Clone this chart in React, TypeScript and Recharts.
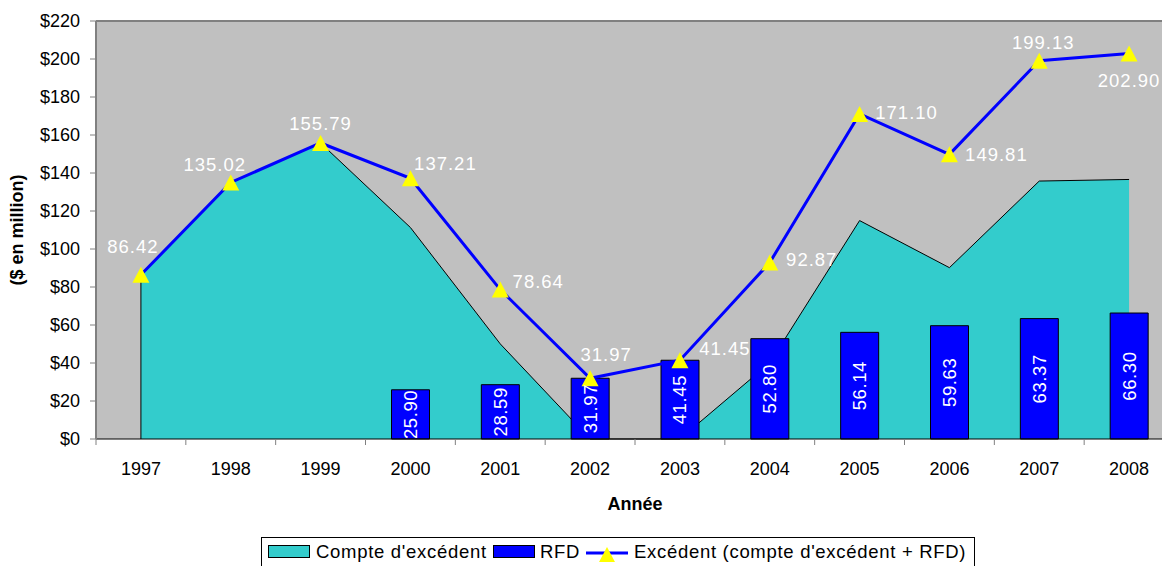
import React from 'react';
import {
  ComposedChart,
  Area,
  Bar,
  Line,
  XAxis,
  YAxis,
  CartesianGrid,
  ReferenceLine,
  LabelList,
} from 'recharts';

const years = ['1997', '1998', '1999', '2000', '2001', '2002', '2003', '2004', '2005', '2006', '2007', '2008'];
const compteExcedent = [86.42, 135.02, 155.79, 111.31, 50.05, 0, 0, 40.07, 114.96, 90.18, 135.76, 136.6];
const rfd: (number | null)[] = [null, null, null, 25.9, 28.59, 31.97, 41.45, 52.8, 56.14, 59.63, 63.37, 66.3];
const excedent = [86.42, 135.02, 155.79, 137.21, 78.64, 31.97, 41.45, 92.87, 171.1, 149.81, 199.13, 202.9];
const yTicks = [0, 20, 40, 60, 80, 100, 120, 140, 160, 180, 200, 220];

// label offsets (dx, dy) for the line's value labels
const lineLabelOffsets: [number, number][] = [
  [-8, -28], [-16, -18], [0, -19], [35, -15], [38, -8], [16, -24],
  [45, -12], [42, -3], [47, -1], [47, 0], [4, -18], [0, 27],
];

const data = years.map((y, i) => ({
  year: y,
  compte: compteExcedent[i],
  rfd: rfd[i],
  excedent: excedent[i],
}));

const FONT = '"Liberation Sans", Arial, sans-serif';
const CHART_W = 1174;
const CHART_H = 566;
const PLOT_LEFT = 96;
const STEP = (CHART_W - PLOT_LEFT) / years.length;

const XTick = (props: any) => {
  const { x, y, payload, index } = props;
  return (
    <g>
      <line x1={x - STEP / 2} y1={y} x2={x - STEP / 2} y2={y + 6} stroke="#808080" />
      {index === years.length - 1 && (
        <line x1={x + STEP / 2} y1={y} x2={x + STEP / 2} y2={y + 6} stroke="#808080" />
      )}
      <text x={x} y={y + 36} textAnchor="middle" fontSize={18} fill="#000" fontFamily={FONT}>
        {payload.value}
      </text>
    </g>
  );
};

const Triangle = (props: any) => {
  const { cx, cy } = props;
  if (cx == null || cy == null) return null;
  return (
    <polygon
      points={`${cx},${cy - 8} ${cx + 8.5},${cy + 8} ${cx - 8.5},${cy + 8}`}
      fill="#FFFF00"
      stroke="none"
    />
  );
};

const LineLabel = (props: any) => {
  const { x, y, value, index } = props;
  if (value == null) return null;
  const [dx, dy] = lineLabelOffsets[index] || [0, -20];
  return (
    <text
      x={x + dx}
      y={y + dy}
      textAnchor="middle"
      dominantBaseline="central"
      fill="#FFFFFF"
      fontSize={18.5}
      letterSpacing={1}
      fontFamily={FONT}
    >
      {Number(value).toFixed(2)}
    </text>
  );
};

const BarLabel = (props: any) => {
  const { x, y, width, height, value } = props;
  if (value == null) return null;
  const cx = x + width / 2;
  const cy = y + height / 2;
  return (
    <text
      x={cx}
      y={cy}
      transform={`rotate(-90, ${cx}, ${cy})`}
      textAnchor="middle"
      dominantBaseline="central"
      fill="#FFFFFF"
      fontSize={18.5}
      letterSpacing={0.6}
      fontFamily={FONT}
    >
      {Number(value).toFixed(2)}
    </text>
  );
};

const LegendBox = () => (
  <div
    style={{
      position: 'absolute',
      left: 261,
      top: 537,
      width: 714,
      height: 30,
      border: '1px solid #000',
      boxSizing: 'border-box',
      background: '#fff',
      fontFamily: FONT,
      fontSize: 18.5,
      letterSpacing: 0.7,
      color: '#000',
    }}
  >
    <div style={{ position: 'absolute', left: 6, top: 7, width: 42, height: 13, background: '#33CCCC', border: '1px solid #000', boxSizing: 'border-box' }} />
    <div style={{ position: 'absolute', left: 54, top: 3, lineHeight: '22px', whiteSpace: 'nowrap' }}>Compte d'excédent</div>
    <div style={{ position: 'absolute', left: 231, top: 7, width: 42, height: 13, background: '#0000FF', border: '1px solid #000', boxSizing: 'border-box' }} />
    <div style={{ position: 'absolute', left: 278, top: 3, lineHeight: '22px', whiteSpace: 'nowrap' }}>RFD</div>
    <svg style={{ position: 'absolute', left: 324, top: 4 }} width={42} height={22}>
      <line x1={0} y1={11} x2={42} y2={11} stroke="#0000FF" strokeWidth={3} />
      <polygon points="21,5 29,20 13,20" fill="#FFFF00" />
    </svg>
    <div style={{ position: 'absolute', left: 372, top: 3, lineHeight: '22px', whiteSpace: 'nowrap' }}>Excédent (compte d'excédent + RFD)</div>
  </div>
);

export default function App() {
  return (
    <div
      style={{
        position: 'fixed',
        left: 0,
        top: 0,
        width: 1162,
        height: 566,
        overflow: 'hidden',
        background: '#fff',
        fontFamily: FONT,
      }}
    >
      <ComposedChart
        width={CHART_W}
        height={CHART_H}
        data={data}
        margin={{ top: 21, right: 0, left: 0, bottom: 47 }}
        style={{ fontFamily: FONT }}
      >
        <CartesianGrid horizontal={false} vertical={false} fill="#C0C0C0" />
        <XAxis
          dataKey="year"
          interval={0}
          tickLine={false}
          tickSize={0}
          tickMargin={0}
          tick={<XTick />}
          axisLine={{ stroke: '#000', strokeWidth: 1 }}
          height={80}
          label={{
            value: 'Année',
            position: 'insideBottom',
            offset: 9,
            style: { fontWeight: 'bold', fontSize: 18, fill: '#000', fontFamily: FONT },
          }}
        />
        <YAxis
          domain={[0, 220]}
          ticks={yTicks}
          interval={0}
          width={96}
          tickSize={6}
          tickMargin={10}
          tickFormatter={(v: number) => `$${v}`}
          tick={{ fill: '#000', fontSize: 18, fontFamily: FONT }}
          tickLine={{ stroke: '#808080' }}
          axisLine={{ stroke: '#808080', strokeWidth: 2 }}
          label={{
            value: '($ en million)',
            angle: -90,
            position: 'insideLeft',
            offset: 17,
            style: { fontWeight: 'bold', fontSize: 18, fill: '#000', fontFamily: FONT, textAnchor: 'middle' },
          }}
        />
        <ReferenceLine y={220} stroke="#808080" strokeWidth={2} />
        <Area
          type="linear"
          dataKey="compte"
          name="Compte d'excédent"
          fill="#33CCCC"
          fillOpacity={1}
          stroke="#000"
          strokeWidth={1}
          isAnimationActive={false}
        />
        <ReferenceLine
          segment={[
            { x: years[0], y: 0 },
            { x: years[0], y: compteExcedent[0] },
          ]}
          stroke="#000"
          strokeWidth={1}
        />
        <Bar
          dataKey="rfd"
          name="RFD"
          fill="#0000FF"
          stroke="#000"
          strokeWidth={1}
          barSize={38}
          isAnimationActive={false}
        >
          <LabelList dataKey="rfd" content={<BarLabel />} />
        </Bar>
        <Line
          type="linear"
          dataKey="excedent"
          name="Excédent (compte d'excédent + RFD)"
          stroke="#0000FF"
          strokeWidth={3}
          dot={<Triangle />}
          activeDot={false}
          isAnimationActive={false}
        >
          <LabelList dataKey="excedent" content={<LineLabel />} />
        </Line>
      </ComposedChart>
      <LegendBox />
    </div>
  );
}
